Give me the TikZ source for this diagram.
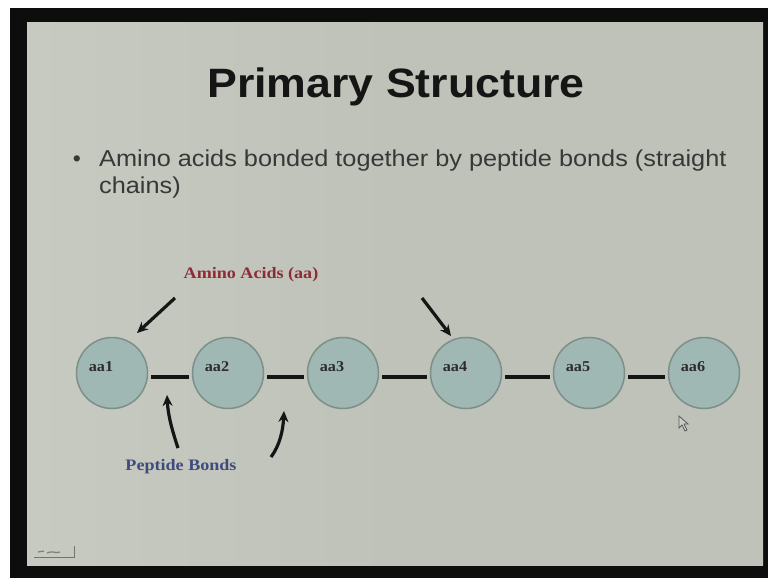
\documentclass[tikz,border=0pt]{standalone}
\usepackage{fontspec}
\setmainfont{Liberation Serif}
\newfontfamily\arialfont{Liberation Sans}
\usetikzlibrary{arrows.meta,calc}
\definecolor{slidebg}{HTML}{BEC2B8}
\definecolor{slidelight}{HTML}{C6CAC0}
\definecolor{aafill}{HTML}{A0B8B3}
\definecolor{aaedge}{HTML}{7E8F8A}
\definecolor{aared}{HTML}{8E2B35}
\definecolor{pbblue}{HTML}{3F4B7D}
\definecolor{ink}{HTML}{151515}
\tikzset{
  aacircle/.style={circle,fill=aafill,draw=aaedge,line width=1.5pt,minimum size=71pt,inner sep=0pt},
  aalabel/.style={font=\bfseries\fontsize{15}{15}\selectfont,text=ink!90,inner sep=0pt},
  bodytext/.style={font=\arialfont\fontsize{23}{23}\selectfont,text=ink!85,anchor=base west,inner sep=0pt},
  bond/.style={ink,line width=3.8pt,shorten <=3pt,shorten >=3pt},
  pointer/.style={ink,line width=3.2pt,-{Stealth[length=11pt,width=10pt]}},
}
\begin{document}
\begin{tikzpicture}[x=1pt,y=-1pt]
\useasboundingbox (0,0) rectangle (768,578);
\fill[white] (0,0) rectangle (768,578);
\fill[black!95] (10,8) rectangle (768,578);
\shade[left color=slidelight,right color=slidebg,middle color=slidebg] (27,23) rectangle (763,565);
% title and bullet
\node[font=\arialfont\bfseries\fontsize{41}{41}\selectfont,text=ink,anchor=base] (title) at (396,97) {\scalebox{1.09}[1]{Primary Structure}};
\node[font=\arialfont\fontsize{23}{23}\selectfont,text=ink!85,anchor=base] (bul) at (77,166) {\textbullet};
\node[bodytext] (line1) at (99,166) {\scalebox{1.1}[1]{Amino acids bonded together by peptide bonds (straight}};
\node[bodytext] (line2) at (99,193) {\scalebox{1.1}[1]{chains)}};
% amino acids
\foreach \i/\x in {1/112,2/228,3/343,4/466,5/589,6/704}{
  \node[aacircle] (aa\i) at (\x,373) {};
  \node[aalabel] (l\i) at ($(aa\i)+(-11,-6)$) {\scalebox{1.08}[1]{aa\i}};
}
\foreach \a/\b in {1/2,2/3,3/4,4/5,5/6}{
  \draw[bond] ([yshift=-4pt]aa\a.east) -- ([yshift=-4pt]aa\b.west);
}
% labels
\node[font=\bfseries\fontsize{16}{16}\selectfont,text=aared] (aalab) at (251,275) {\scalebox{1.13}[1]{Amino Acids (aa)}};
\node[font=\bfseries\fontsize{16}{16}\selectfont,text=pbblue] (pblab) at (181,467) {\scalebox{1.13}[1]{Peptide Bonds}};
\coordinate (t1) at (175,298);
\coordinate (h1) at (137,333);
\coordinate (t2) at (422,298);
\coordinate (h2) at (451,336);
\draw[pointer] (t1) -- (h1);
\draw[pointer] (t2) -- (h2);
\coordinate (t3) at (178,448);
\coordinate (h3) at (167,395);
\coordinate (t4) at (271,457);
\coordinate (h4) at (284,411);
\draw[pointer] (t3) .. controls (172,430) and (168,415) .. (h3);
\draw[pointer] (t4) .. controls (280,445) and (283,430) .. (h4);
% cursor
\draw[ink!70,fill=slidebg!80!white,line width=0.8pt] (679,416) -- (679,428) -- (682,425) -- (685,431) -- (687,430) -- (684,424) -- (688,424) -- cycle;
% nav icon
\draw[ink!60,line width=1pt] (34,557) -- (75,557) (74,546) -- (74,557);
\draw[ink!55,line width=1.2pt] (38,552) -- (44,551) (47,553) .. controls (52,550) and (56,554) .. (60,552);
\end{tikzpicture}
\end{document}
